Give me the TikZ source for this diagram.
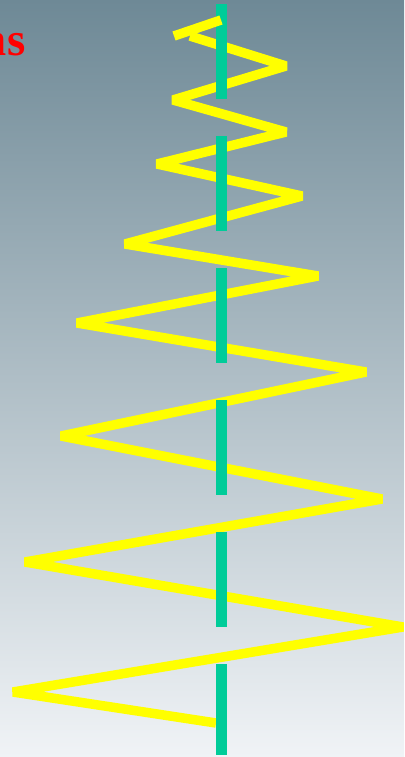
\documentclass[tikz,border=0pt]{standalone}
\usepackage{fontspec}
\setmainfont{Liberation Serif}
\definecolor{bgtop}{RGB}{110,137,150}
\definecolor{bgmid}{RGB}{190,198,203}
\definecolor{bgbot}{RGB}{240,243,246}
\definecolor{zig}{RGB}{255,255,0}
\definecolor{axisgreen}{RGB}{0,204,153}
\definecolor{titlered}{RGB}{255,0,0}
\tikzset{
  zigline/.style={draw=zig, line width=9.5pt, line join=bevel, line cap=butt},
  axisline/.style={draw=axisgreen, line width=11.5pt, line cap=butt, dash pattern=on 95pt off 37pt},
  titletext/.style={text=titlered, font=\bfseries\fontsize{47}{50}\selectfont, inner sep=0pt, anchor=base east}
}
\begin{document}
\begin{tikzpicture}[x=1pt,y=-1pt]
\useasboundingbox (0,0) rectangle (404,757);
\clip (0,0) rectangle (404,757);
\shade[top color=bgtop, middle color=bgmid, bottom color=bgbot] (0,0) rectangle (404,757);
% zigzag
\draw[zigline] (190,36) -- (286,66) -- (173,100) -- (286,132) -- (157,164) -- (302,196)
  -- (125,244) -- (318,276) -- (77,323) -- (366,372) -- (61,436) -- (382,499)
  -- (25,562) -- (403,627) -- (13,692) -- (216,723);
% green axis
\coordinate (axtop) at (221.5,4);
\coordinate (axbot) at (221.5,755);
\draw[axisline] (axtop) -- (axbot);
% short top stroke
\coordinate (sa) at (174,36);
\coordinate (sb) at (221,20);
\draw[zigline] (sa) -- (sb);
% title fragment
\node[titletext] (title) at (25.5,56) {ns};
\end{tikzpicture}
\end{document}
